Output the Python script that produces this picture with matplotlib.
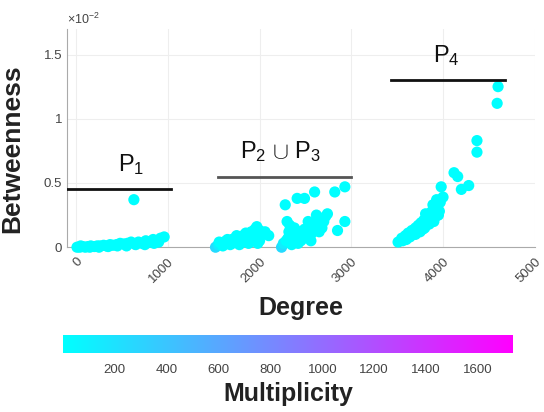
import matplotlib
matplotlib.use('Agg')
import matplotlib.pyplot as plt
from matplotlib import rcParams
import matplotlib.colors as colors
import matplotlib.cm as cm

rcParams['font.family'] = ['Liberation Sans', 'DejaVu Sans']
rcParams['mathtext.fontset'] = 'custom'
rcParams['mathtext.rm'] = 'Liberation Sans'
rcParams['mathtext.it'] = 'Liberation Sans'
rcParams['mathtext.bf'] = 'Liberation Sans:bold'

# betweenness values in units of 1e-2
p1_deg = [10, 40, 70, 100, 130, 160, 200, 230, 260, 300, 330, 370, 400, 440, 480, 520,
          560, 600, 640, 680, 720, 760, 800, 840, 880, 920, 960, 630,
          50, 150, 250, 350, 450, 550, 650, 750, 850, 900]
p1_bet = [0.0, 0.0, 0.005, 0.0, 0.005, 0.01, 0.005, 0.01, 0.01, 0.015, 0.01, 0.02, 0.015,
          0.02, 0.03, 0.025, 0.03, 0.04, 0.025, 0.04, 0.03, 0.05, 0.04, 0.06, 0.05, 0.07,
          0.08, 0.37,
          0.01, 0.0, 0.0, 0.005, 0.01, 0.01, 0.02, 0.02, 0.03, 0.04]
p1_mult = [1] * len(p1_deg)

p23_deg = [1520, 1550, 1580, 1610, 1640, 1670, 1700, 1730, 1760, 1790, 1820, 1850, 1880,
           1910, 1940, 1970, 2000, 2030, 2060, 2100, 1600, 1700, 1800, 1900, 2000,
           1650, 1750, 1850, 1950, 2050, 1560, 1680, 1780, 1880, 1980,
           2240, 2260, 2290, 2310, 2340, 2370, 2400, 2430, 2460, 2490, 2520, 2550, 2580,
           2610, 2640, 2670, 2700, 2280, 2300, 2410, 2490, 2600, 2820, 2930, 2740, 2930,
           2850, 2350, 2450, 2550, 2650,
           2320, 2380, 2420, 2480, 2530, 2570, 2620, 2680, 2720, 2560, 2510, 2330]
p23_bet = [0.0, 0.02, 0.03, 0.04, 0.05, 0.04, 0.06, 0.07, 0.05, 0.08, 0.09, 0.07, 0.1,
           0.12, 0.11, 0.16, 0.13, 0.1, 0.12, 0.09, 0.01, 0.03, 0.04, 0.06, 0.05,
           0.06, 0.09, 0.11, 0.14, 0.11, 0.04, 0.02, 0.02, 0.03, 0.03,
           0.0, 0.03, 0.05, 0.07, 0.06, 0.1, 0.08, 0.12, 0.1, 0.14, 0.13, 0.17, 0.15,
           0.2, 0.18, 0.22, 0.2, 0.33, 0.2, 0.38, 0.38, 0.43, 0.43, 0.47, 0.26, 0.2,
           0.13, 0.02, 0.05, 0.09, 0.12,
           0.12, 0.15, 0.03, 0.07, 0.2, 0.11, 0.25, 0.15, 0.24, 0.05, 0.09, 0.17]
p23_mult = [250, 120] + [1] * 33 + [250, 120] + [1] * 41

p4_deg = [3510, 3550, 3590, 3620, 3660, 3700, 3730, 3760, 3790, 3820, 3850, 3880, 3910,
          3940, 3970, 4000, 3600, 3700, 3800, 3900, 3980, 4200, 4280, 4160, 4120, 4370,
          4370, 4590, 4600, 3750, 3850, 3950,
          3640, 3680, 3720, 3780, 3830, 3870, 3920, 3960, 3560, 3810, 3890, 3930]
p4_bet = [0.04, 0.07, 0.09, 0.11, 0.13, 0.15, 0.17, 0.19, 0.21, 0.23, 0.26, 0.28, 0.3,
          0.32, 0.35, 0.39, 0.06, 0.1, 0.15, 0.2, 0.47, 0.45, 0.48, 0.55, 0.58, 0.74,
          0.83, 1.12, 1.25, 0.12, 0.18, 0.25,
          0.08, 0.1, 0.13, 0.14, 0.18, 0.2, 0.24, 0.28, 0.05, 0.26, 0.33, 0.37]
p4_mult = [1] * len(p4_deg)

# partition bars: (x start, x end, level, label, colour)
part_x0 = [-100, 1550, 3430]
part_x1 = [1030, 3000, 4680]
part_y = [0.45, 0.55, 1.30]
part_lbl = ['P$_1$', 'P$_2$ $\\cup$ P$_3$', 'P$_4$']
part_col = ['#111111', '#555555', '#111111']
lbl_x = [600, 2230, 4040]

mult_min, mult_max = 1, 1735
cb_ticks = [200, 400, 600, 800, 1000, 1200, 1400, 1600]

fig = plt.figure(figsize=(5.44, 4.12), dpi=100)
ax = fig.add_axes([0.123, 0.40, 0.86, 0.53])
norm = colors.Normalize(vmin=mult_min, vmax=mult_max)

deg = p1_deg + p23_deg + p4_deg
bet = p1_bet + p23_bet + p4_bet
mult = p1_mult + p23_mult + p4_mult
sc = ax.scatter(deg, bet, c=mult, cmap='cool', norm=norm, s=65, edgecolors='none',
                clip_on=False, zorder=3)

for i in range(3):
    ax.plot([part_x0[i], part_x1[i]], [part_y[i], part_y[i]], color=part_col[i], lw=2,
            zorder=4)
    ax.text(lbl_x[i], part_y[i] + 0.14, part_lbl[i], fontsize=17, ha='center',
            va='baseline', color='#111111')

ax.set_xlim(-100, 5000)
ax.set_ylim(0, 1.7)
ax.set_xticks([0, 1000, 2000, 3000, 4000, 5000])
ax.set_yticks([0, 0.5, 1, 1.5])
ax.set_yticklabels(['0', '0.5', '1', '1.5'])
ax.tick_params(axis='x', labelrotation=45, labelsize=9.5, colors='#444444', length=0,
               pad=6)
ax.tick_params(axis='y', labelsize=9.5, colors='#444444', length=0)
for lab in ax.get_xticklabels():
    lab.set_ha('right')
    lab.set_va('top')
    lab.set_rotation_mode('anchor')
ax.grid(True, color='#eeeeee', lw=0.8)
ax.set_axisbelow(True)
for s in ['top', 'right']:
    ax.spines[s].set_visible(False)
for s in ['left', 'bottom']:
    ax.spines[s].set_color('#aaaaaa')
ax.set_xlabel('Degree', fontsize=18, fontweight='bold', color='#222222', labelpad=8)
ax.set_ylabel('Betweenness', fontsize=19, fontweight='bold', color='#222222')
ax.yaxis.set_label_coords(-0.092, 0.45)
ax.text(0.0, 1.01, '$\\times10^{-2}$', transform=ax.transAxes, fontsize=9,
        color='#444444', va='bottom', ha='left')

cax = fig.add_axes([0.116, 0.143, 0.827, 0.044])
cb = fig.colorbar(cm.ScalarMappable(norm=norm, cmap='cool'), cax=cax,
                  orientation='horizontal', ticks=cb_ticks)
cb.outline.set_visible(False)
cax.tick_params(labelsize=9.5, colors='#444444', length=0, pad=8)
cb.set_label('Multiplicity', fontsize=18, fontweight='bold', color='#222222', labelpad=4)

fig.savefig('out.png', dpi=100)
